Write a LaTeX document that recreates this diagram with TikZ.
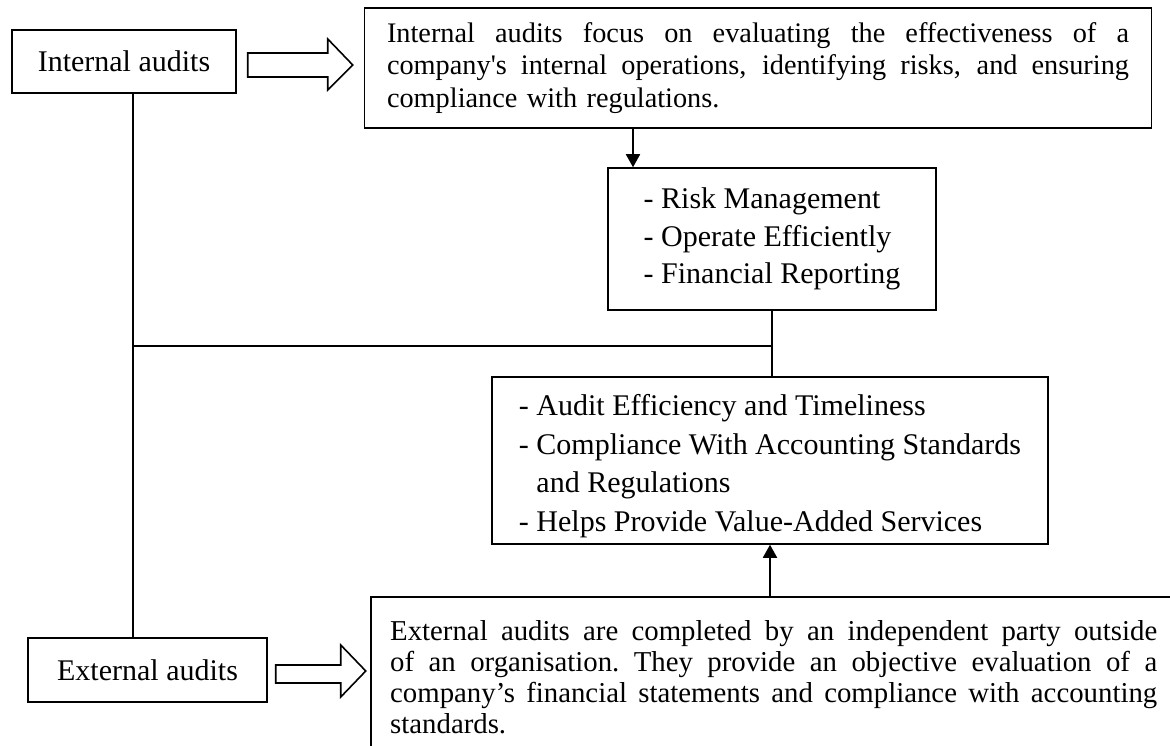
\documentclass[tikz,border=0pt]{standalone}
\usepackage{fontspec}
\setmainfont{Liberation Serif}
\newfontfamily\sqfont{Liberation Serif}
\usetikzlibrary{arrows.meta,calc}
\newcommand\jline[2]{\leavevmode\hbox to #1{\spaceskip=0.25em plus 1fil minus 0.08em\relax #2}}
\begin{document}
\begin{tikzpicture}[x=1pt,y=1pt,
  box/.style={draw, line width=1.5pt, inner sep=0pt},
  lbl/.style={font=\fontsize{30}{36}\selectfont},
  conn/.style={line width=1.8pt},
  arr/.style={line width=1.8pt, -{Triangle[length=13pt,width=14pt]}},
  hollow/.style={draw, line width=1.6pt, fill=white, line join=miter}]
\useasboundingbox (0,0) rectangle (1170,-746);

% nodes
\node[box, minimum width=224pt, minimum height=63pt, lbl] (ia) at (124,-61.5) {Internal audits};
\node[box, minimum width=239pt, minimum height=64pt, lbl] (ea) at (147.5,-670) {External audits};

\node[box, minimum width=787pt, minimum height=120pt, text width=742pt, align=left,
      font=\fontsize{28.3}{32.5}\selectfont] (top) at (758,-68)
 {\jline{742pt}{Internal audits focus on evaluating the effectiveness of a}\\
  \jline{742pt}{company{\sqfont'}s internal operations, identifying risks, and ensuring}\\
  compliance with regulations.};

\node[box, minimum width=328pt, minimum height=142pt, align=left,
      font=\fontsize{30}{37.5}\selectfont] (b2) at (772,-239)
 {- Risk Management\\- Operate Efficiently\\- Financial Reporting};

\node[box, minimum width=556pt, minimum height=167pt, align=left,
      font=\fontsize{30}{38.5}\selectfont] (b3) at (770,-460.5)
 {\rule{0pt}{32pt}- Audit Efficiency and Timeliness\\- Compliance With Accounting Standards\\\phantom{- }and Regulations\\- Helps Provide Value-Added Services};

\node[box, minimum width=830pt, minimum height=180pt, anchor=north west] (botbox) at (370,-596) {};
\node[anchor=north west, inner sep=0pt, text width=767pt, align=left,
      font=\fontsize{28.8}{31}\selectfont] (bottxt) at (390,-620)
 {\jline{767pt}{External audits are completed by an independent party outside}\\
  \jline{767pt}{of an organisation. They provide an objective evaluation of a}\\
  \jline{767pt}{company’s financial statements and compliance with accounting}\\
  standards.};

% hollow block arrows
\draw[hollow, shift={(ia.east)}] (11,8.5) -- (91,8.5) -- (91,22.5) -- (116,-3.5) -- (91,-28.5) -- (91,-15.5) -- (11,-15.5) -- cycle;
\draw[hollow, shift={(ea.east)}] (8,5) -- (73,5) -- (73,25) -- (98,-1) -- (73,-27) -- (73,-13) -- (8,-13) -- cycle;

% connectors
\coordinate (lx) at (133,0);
\coordinate (ax) at (633,0);
\coordinate (hy) at (0,-346);
\draw[conn] (ia.south -| lx) -- (ea.north -| lx);
\draw[arr] (top.south -| ax) -- (b2.north -| ax);
\draw[conn] (b2.south) -- (b3.north -| b2.south);
\draw[conn] (lx |- hy) -- (b2.south |- hy);
\draw[arr] (botbox.north -| b3.south) -- (b3.south);
\end{tikzpicture}
\end{document}
